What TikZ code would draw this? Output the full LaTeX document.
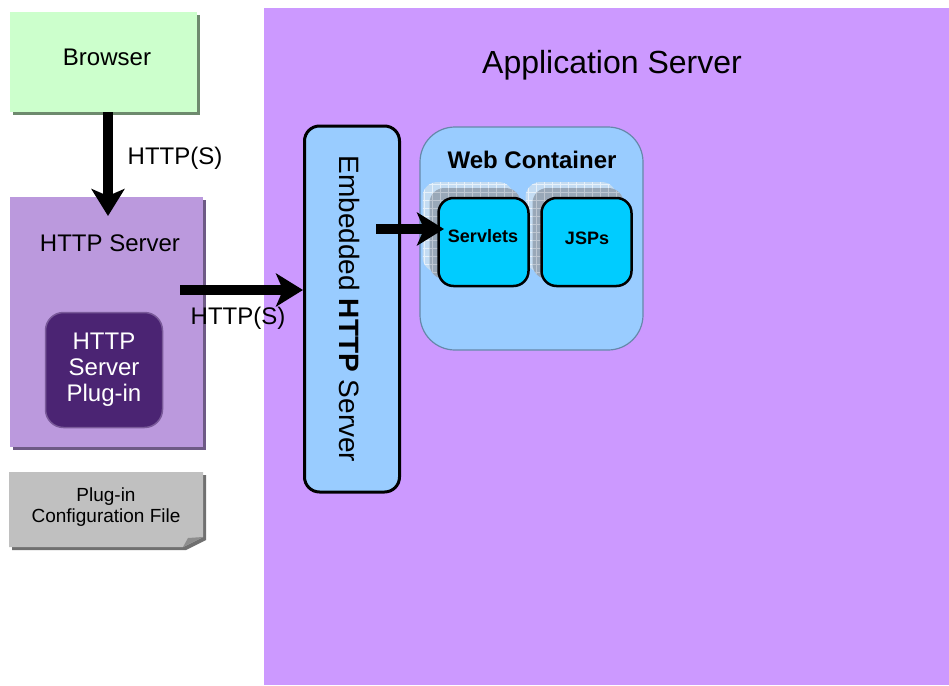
\documentclass[tikz,border=0pt]{standalone}
\usepackage{fontspec}
\setmainfont{Liberation Sans}
\usetikzlibrary{arrows.meta,positioning}
\definecolor{appbg}{HTML}{CC99FF}
\definecolor{browserbg}{HTML}{CCFFCC}
\definecolor{browsersh}{HTML}{6E8A6E}
\definecolor{httpbg}{HTML}{BB99DD}
\definecolor{httpsh}{HTML}{6E5A85}
\definecolor{plugbg}{HTML}{4B2473}
\definecolor{plugedge}{HTML}{7A5A9A}
\definecolor{cfgbg}{HTML}{C0C0C0}
\definecolor{cfgsh}{HTML}{707070}
\definecolor{blueboxbg}{HTML}{99CCFF}
\definecolor{wcedge}{HTML}{6688AA}
\definecolor{cyanbg}{HTML}{00CCFF}
\definecolor{ghostlight}{HTML}{C4DCF2}
\definecolor{ghostdark}{HTML}{99A8B8}
\tikzset{
  lbl/.style={font=\fontsize{24}{27}\selectfont, text=black},
  flatbox/.style={draw=none, rectangle, inner sep=0pt},
  bigarrow/.style={line width=10.5pt, -{Stealth[length=27pt,width=33pt,inset=7pt]}},
  cyanbox/.style={draw=black, line width=2.5pt, fill=cyanbg, rounded corners=15pt, rectangle,
    minimum width=90pt, minimum height=88pt, inner sep=0pt},
}
\begin{document}
\begin{tikzpicture}[x=1pt,y=-1pt]
\useasboundingbox (0,0) rectangle (949,685);
\fill[white] (0,0) rectangle (949,685);
% application server
\fill[appbg] (264,8) rectangle (949,685);
\node[font=\fontsize{32}{36}\selectfont] (apptitle) at (612,65) {Application Server};

% browser
\fill[browsersh] (13,15) rectangle (200,115);
\node[flatbox, fill=browserbg, minimum width=187pt, minimum height=100pt] (browser) at (103.5,62) {};
\node[lbl] (browsertxt) at (107,57) {Browser};

% http server
\fill[httpsh] (13,200) rectangle (206,450);
\node[flatbox, fill=httpbg, minimum width=193pt, minimum height=250pt] (httpserver) at (106.5,322) {};
\node[lbl] (httptxt) at (110,243) {HTTP Server};
\node[rectangle, rounded corners=18pt, fill=plugbg, draw=plugedge, line width=1.5pt,
  minimum width=117pt, minimum height=115pt, inner sep=0pt] (plugin) at (104,370) {};
\node[lbl, text=white, align=center, font=\fontsize{24}{26}\selectfont] (plugtxt) at (104,370) {HTTP\\Server\\Plug-in};

% config file
\fill[cfgsh] (12,475) -- (206,475) -- (206,540) -- (186,550) -- (12,550) -- cycle;
\fill[cfgbg] (9,472) -- (203,472) -- (203,537) -- (183,547) -- (9,547) -- cycle;
\fill[cfgsh!80] (183,547) -- (203,537) -- (188,538) -- cycle;
\node[align=center, font=\fontsize{19}{21}\selectfont] (cfg) at (106,507) {Plug-in\\Configuration File};

% embedded http server
\node[rectangle, rounded corners=15pt, fill=blueboxbg, draw=black, line width=3pt,
  minimum width=95pt, minimum height=366pt, inner sep=0pt] (embedded) at (352,309) {};
\node[rotate=-90, font=\fontsize{28}{32}\selectfont] (embtxt) at (350,309) {Embedded \textbf{HTTP} Server};

% web container
\node[rectangle, rounded corners=35pt, fill=blueboxbg, draw=wcedge, line width=1.2pt,
  minimum width=223pt, minimum height=223pt, inner sep=0pt] (webcont) at (531.5,238.5) {};
\node[font=\bfseries\fontsize{24}{28}\selectfont] (wctxt) at (532,160) {Web Container};

% ghost boxes
\foreach \cx in {483.5,586.5} {
  \fill[ghostlight, rounded corners=15pt] (\cx-61,182) rectangle (\cx+30,272);
  \begin{scope}
    \clip[rounded corners=15pt] (\cx-61,182) rectangle (\cx+30,272);
    \draw[white!60!ghostlight, line width=0.4pt, step=8pt] (\cx-61,182) grid (\cx+30,272);
  \end{scope}
  \fill[ghostdark, rounded corners=15pt] (\cx-54,188) rectangle (\cx+37,279);
  \begin{scope}
    \clip[rounded corners=15pt] (\cx-54,188) rectangle (\cx+37,279);
    \draw[white!35!ghostdark, line width=0.4pt, step=8pt] (\cx-54,188) grid (\cx+37,279);
  \end{scope}
}
\node[cyanbox] (servlets) at (483.5,242) {};
\node[font=\bfseries\fontsize{18}{21}\selectfont] (servtxt) at (483,236) {Servlets};
\node[cyanbox] (jsps) at (586.5,242) {};
\node[font=\bfseries\fontsize{18}{21}\selectfont] (jsptxt) at (587,238) {JSPs};

% arrows
\coordinate (a1s) at (108,112);
\draw[bigarrow] (a1s) -- (108,216) coordinate (a1e);
\node[lbl] (lab1) at (175,158) {HTTP(S)};
\coordinate (a2s) at (180,290);
\draw[bigarrow] (a2s) -- (embedded.west |- a2s);
\node[lbl] (lab2) at (238,318) {HTTP(S)};
\coordinate (a3s) at (376,229);
\draw[bigarrow] (a3s) -- (444,229) coordinate (a3e);
\end{tikzpicture}
\end{document}
